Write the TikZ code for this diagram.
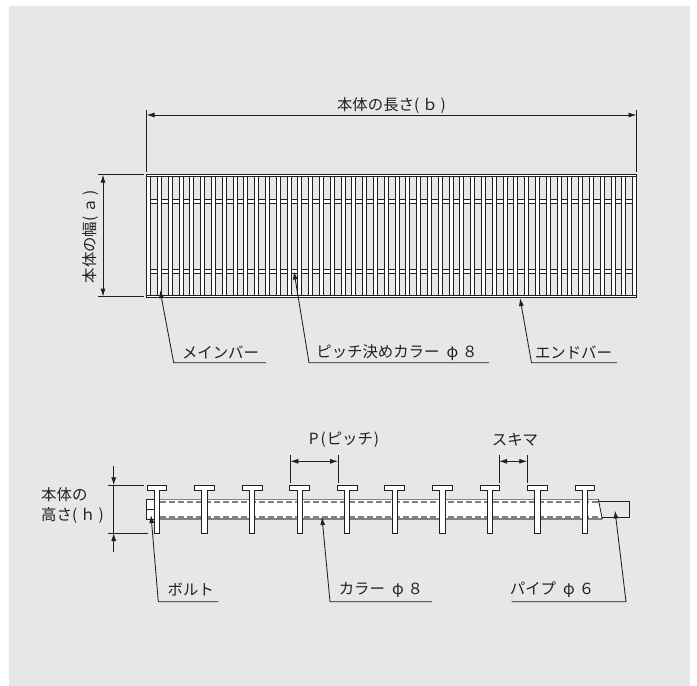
\documentclass[tikz,border=0pt]{standalone}
\usepackage{fontspec}
\usetikzlibrary{arrows.meta}
\newfontfamily\jpfont{Noto Sans CJK JP}
\definecolor{bgc}{HTML}{E6E7E8}
\definecolor{ink}{HTML}{231F20}
\definecolor{midg}{HTML}{808080}
\newcommand{\gp}{\hspace{3pt}}
\tikzset{
  lbl/.style={font=\jpfont\fontsize{15.4}{20}\selectfont,text=ink,inner sep=0pt,anchor=center},
  thin line/.style={draw=ink,line width=0.85pt},
  part/.style={draw=ink,line width=0.85pt,fill=white},
  dimarrow/.style={draw=ink,line width=0.85pt,{Latex[length=8pt,width=5pt]}-{Latex[length=8pt,width=5pt]}},
  onearrow/.style={draw=ink,line width=0.85pt,-{Latex[length=8pt,width=5pt]}},
  leader/.style={draw=ink,line width=0.85pt,{Latex[length=8pt,width=5pt]}-},
  dashline/.style={draw=midg,line width=1.2pt,dash pattern=on 6pt off 3pt}
}
\begin{document}
\begin{tikzpicture}[x=1pt,y=-1pt]
\useasboundingbox (0,0) rectangle (697,686);
\fill[bgc] (9,6) rectangle (690,686);

% ---- plan view ----
\foreach \yy in {199.3,269}{
  \path[part] (150.7,\yy) rectangle (632.7,\yy+4);
}
\path[part] (146.7,174.8) rectangle (636.7,176.8);
\path[part] (146.7,295.2) rectangle (636.7,297);
\foreach \k in {0,...,45}{
  \pgfmathsetmacro\xa{146.7+10.8*\k}
  \path[part] (\xa,176.8) rectangle (\xa+4,295.2);
}
% dimension: length
\coordinate (bL) at (146.5,115);
\coordinate (bR) at (636.5,115);
\draw[thin line] (146.5,110) -- (146.5,172);
\draw[thin line] (636.5,110) -- (636.5,172);
\draw[dimarrow] (bL) -- (bR);
\node[lbl] (blabel) at (391.5,105.5) {本体の長さ(\gp ｂ\gp )};
% dimension: width
\coordinate (aT) at (103,174.7);
\coordinate (aB) at (103,296.6);
\draw[thin line] (98,174.7) -- (144,174.7);
\draw[thin line] (98,296.6) -- (144,296.6);
\draw[dimarrow] (aT) -- (aB);
\node[lbl,rotate=90] (alabel) at (90.5,236.5) {本体の幅(\gp ａ\gp )};

% plan leaders
\coordinate (m1) at (160,290); \coordinate (m2) at (173.7,362.7); \coordinate (m3) at (266,362.7);
\draw[leader] (m1) -- (m2) -- (m3);
\node[lbl] (mlabel) at (220.5,352.5) {メインバー};
\coordinate (p1) at (294,271.5); \coordinate (p2) at (309,362.7); \coordinate (p3) at (489,362.7);
\draw[leader] (p1) -- (p2) -- (p3);
\node[lbl] (plabel) at (397,352.5) {ピッチ決めカラー\hspace{7pt}φ\hspace{4pt}８};
\coordinate (e1) at (520,298); \coordinate (e2) at (531.5,362.7); \coordinate (e3) at (617,362.7);
\draw[leader] (e1) -- (e2) -- (e3);
\node[lbl] (elabel) at (573.5,352.5) {エンドバー};

% ---- side view ----
\fill[white] (154,499.3) -- (598.3,499.3) -- (602.3,519.2) -- (154,519.2) -- cycle;
\draw[midg,line width=1.2pt] (154,499.6) -- (598.3,499.6);
\draw[midg,line width=1.2pt] (154,519) -- (602.3,519);
\draw[dashline] (160,502) -- (598.5,502);
\draw[dashline] (160,517) -- (601,517);
\draw[thin line] (598.3,499.3) -- (602.3,519.2);
% pipe end
\draw[thin line] (599,501.7) -- (629.7,501.7) -- (629.7,517.3) -- (602,517.3);
% bolt
\path[part] (146.3,499.3) rectangle (154.3,519);
\draw[thin line] (146.3,509) -- (154.3,509);
% T bars
\foreach \k in {0,...,9}{
  \pgfmathsetmacro\xc{157+47.55*\k}
  \path[part] (\xc-2.7,490.7) -- (\xc-2.7,533.3) -- (\xc+2.7,533.3) -- (\xc+2.7,490.7) -- (\xc+9.9,490.7) -- (\xc+9.9,485.4) -- (\xc-9.9,485.4) -- (\xc-9.9,490.7) -- cycle;
}
% dimension: height
\coordinate (hT) at (113.7,485.3);
\coordinate (hB) at (113.7,533);
\coordinate (hT0) at (113.7,466);
\coordinate (hB0) at (113.7,551.7);
\draw[thin line] (108,485.3) -- (144,485.3);
\draw[thin line] (108,533) -- (148,533);
\draw[onearrow] (hT0) -- (hT);
\draw[onearrow] (hB0) -- (hB);
\draw[thin line] (hT) -- (hB);
\node[lbl,align=left,anchor=west] (hlabel) at (41,506) {本体の\\高さ(\gp ｈ\gp )};
% dimension: pitch
\coordinate (P1) at (290.3,461.3); \coordinate (P2) at (338,461.3);
\draw[thin line] (290.3,455) -- (290.3,482.7);
\draw[thin line] (338,455) -- (338,482.7);
\draw[dimarrow] (P1) -- (P2);
\node[lbl] (Plabel) at (344,440) {P\hspace{2pt}(\hspace{1pt}ピッチ\hspace{1pt})};
% dimension: gap
\coordinate (S1) at (499,461.3); \coordinate (S2) at (527.3,461.3);
\draw[thin line] (499,455) -- (499,482.7);
\draw[thin line] (527.3,455) -- (527.3,482.7);
\draw[dimarrow] (S1) -- (S2);
\node[lbl] (Slabel) at (515,440) {スキマ};

% side leaders
\coordinate (v1) at (151,515); \coordinate (v2) at (158.3,601.7); \coordinate (v3) at (218.3,601.7);
\draw[leader] (v1) -- (v2) -- (v3);
\node[lbl] (vlabel) at (190.8,590) {ボルト};
\coordinate (c1) at (322,517); \coordinate (c2) at (330,601.7); \coordinate (c3) at (432,601.7);
\draw[leader] (c1) -- (c2) -- (c3);
\node[lbl] (clabel) at (381,590) {カラー\hspace{7pt}φ\hspace{4pt}８};
\coordinate (q1) at (615,510.5); \coordinate (q2) at (626,601.7); \coordinate (q3) at (511.7,601.7);
\draw[leader] (q1) -- (q2) -- (q3);
\node[lbl] (qlabel) at (552,590) {パイプ\hspace{7pt}φ\hspace{4pt}６};
\end{tikzpicture}
\end{document}
